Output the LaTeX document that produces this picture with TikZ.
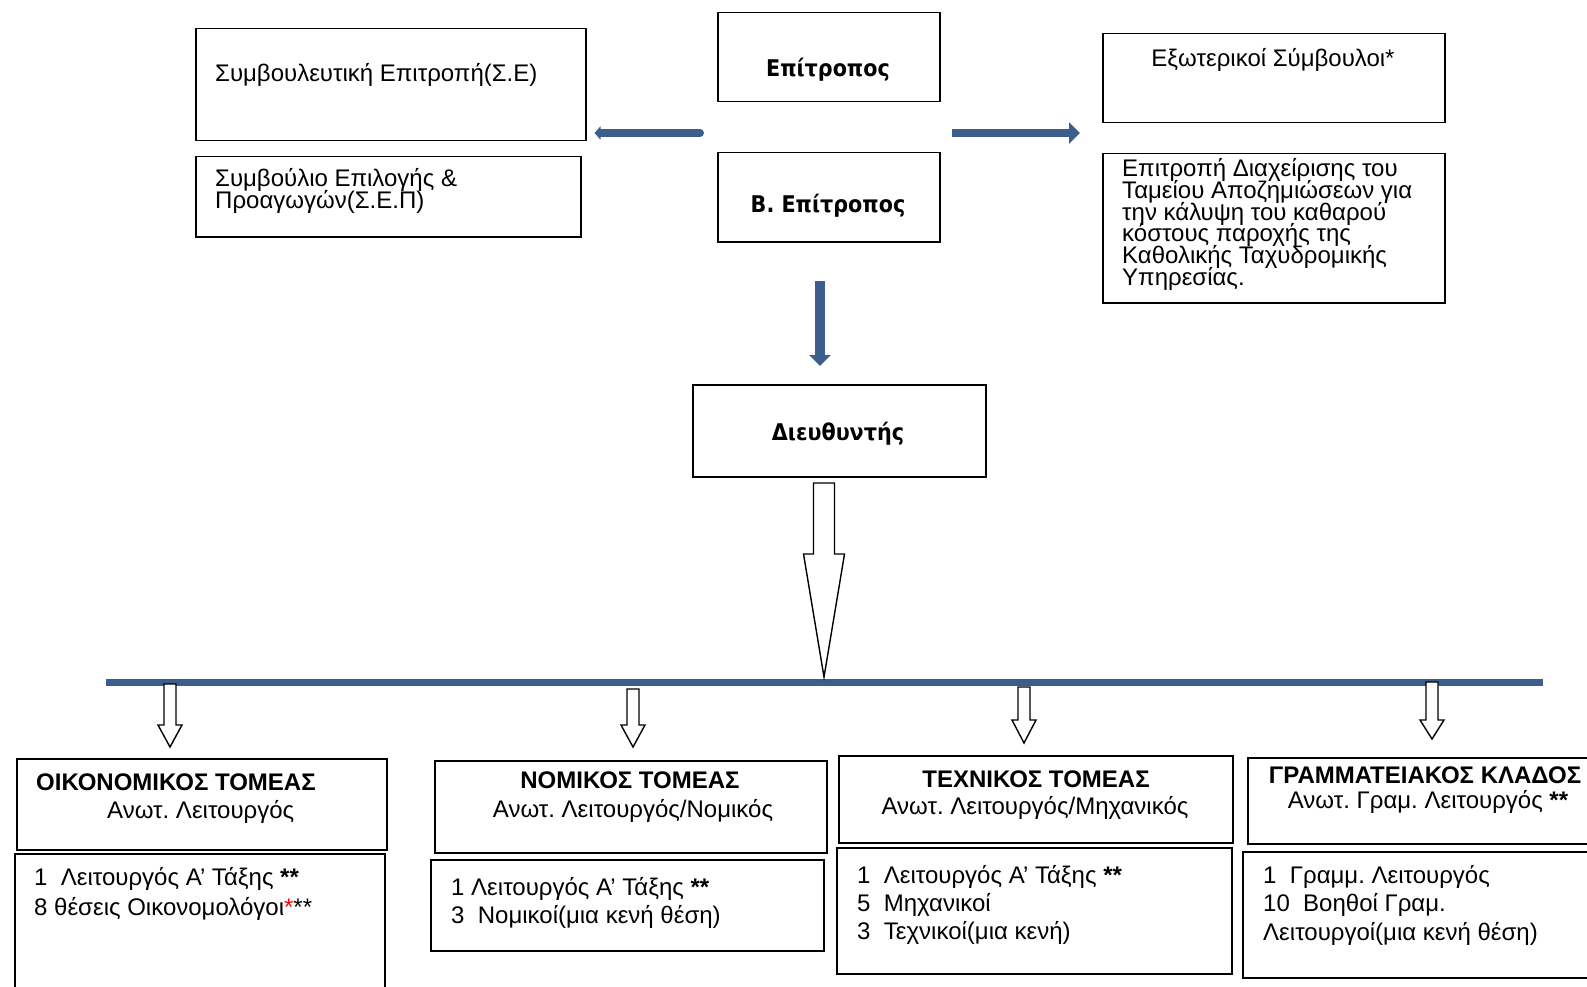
\documentclass[tikz,border=0pt]{standalone}
\usepackage{fontspec}
\setmainfont{Liberation Sans}
\newfontfamily\dejavu[FakeStretch=0.9]{DejaVu Sans}
\usetikzlibrary{arrows.meta}

\definecolor{chartblue}{HTML}{3B5E8C}

\tikzset{
    box/.style={draw, line width=1.5pt, anchor=north west, inner sep=0pt},
    lbl/.style={inner sep=0pt, font=\fontsize{24}{28}\selectfont},
    lblb/.style={lbl, font=\fontsize{24}{28}\selectfont\bfseries},
    title/.style={inner sep=0pt, font=\dejavu\bfseries\fontsize{23}{27}\selectfont},
    bluearrow/.style={draw=chartblue, line width=8pt},
    hollow/.style={draw, line width=1.4pt, fill=white, line join=miter}
}

% hollow arrow pointing down: x, top, neck, tip, shaft half width, head half width
\newcommand{\hollowdown}[6]{%
    \draw[hollow] (#1-#5,#2) -- (#1+#5,#2) -- (#1+#5,#3) -- (#1+#6,#3)
        -- (#1,#4) -- (#1-#6,#3) -- (#1-#5,#3) -- cycle;}

\begin{document}
\frenchspacing
\begin{tikzpicture}[x=1pt,y=-1pt]
        \useasboundingbox (0,0) rectangle (1587,987);

        % the advisory bodies on the left
        \node[box, minimum width=390pt, minimum height=112pt] (se) at (195,28) {};
        \node[lbl, anchor=base west] (se-t) at (215,82) {Συμβουλευτική Επιτροπή(Σ.Ε)};
        \node[box, minimum width=385pt, minimum height=80pt] (sep) at (195,156) {};
        \foreach \t [count=\i from 0] in {Συμβούλιο Επιλογής \&, Προαγωγών(Σ.Ε.Π)}
                \node[lbl, anchor=base west] (sep-\i) at (215,187+21*\i) {\t};

        % the commissioner and his deputy
        \node[box, minimum width=222pt, minimum height=89pt] (ep) at (717,12) {};
        \node[title, anchor=base] (ep-t) at (828,77) {Επίτροπος};
        \node[box, minimum width=222pt, minimum height=89pt] (bep) at (717,152) {};
        \node[title, anchor=base] (bep-t) at (828,212) {Β. Επίτροπος};

        % the bodies on the right
        \node[box, minimum width=342pt, minimum height=89pt] (ext) at (1102,33) {};
        \node[lbl, anchor=base] (ext-t) at (1273,67) {Εξωτερικοί Σύμβουλοι*};
        \node[box, minimum width=342pt, minimum height=149pt] (tam) at (1102,153) {};
        \foreach \t [count=\i from 0] in {
            Επιτροπή Διαχείρισης του,
            Ταμείου Αποζημιώσεων για,
            την κάλυψη του καθαρού,
            κόστους παροχής της,
            Καθολικής Ταχυδρομικής,
            Υπηρεσίας.}
                \node[lbl, anchor=base west] (tam-\i) at (1122,177+21.6*\i) {\t};

        % the director
        \node[box, minimum width=293pt, minimum height=92pt] (dir) at (692,384) {};
        \node[title, anchor=base] (dir-t) at (838,440) {Διευθυντής};

        % the blue arrows
        \coordinate (lfrom) at (700,133);
        \coordinate (rfrom) at (952,133);
        \coordinate (dfrom) at (820,281);
        \draw[bluearrow, line cap=round, -{Triangle[length=6pt,width=13pt]}, shorten >=8pt]
              (lfrom) -- (lfrom -| se.east);
        \draw[bluearrow, -{Triangle[length=11pt,width=21pt]}, shorten >=22pt]
              (rfrom) -- (rfrom -| ext.west);
        \draw[bluearrow, line width=10pt, -{Triangle[length=11pt,width=21pt]}, shorten >=18pt]
              (dfrom) -- (dfrom |- dir.north);

        % the bar and the hollow arrows
        \coordinate (busL) at (106,682);
        \coordinate (busR) at (1543,682);
        \draw[draw=chartblue, line width=7pt] (busL) -- (busR);
        \hollowdown{824}{483}{554}{677}{10.5}{20.5}
        \foreach \x/\t/\n/\p in {170/684/725/747, 633/689/725/747,
                                 1024/687/720/743, 1432/682/720/739}
                \hollowdown{\x}{\t}{\n}{\p}{6}{12};

        % the four sectors, heads
        \node[box, minimum width=370pt, minimum height=91pt] (oikh) at (16,758) {};
        \node[lblb, anchor=base west] (oikh-t) at (36,790) {ΟΙΚΟΝΟΜΙΚΟΣ ΤΟΜΕΑΣ};
        \node[lbl, anchor=base west] (oikh-s) at (107,818) {Ανωτ. Λειτουργός};
        \node[box, minimum width=392pt, minimum height=92pt] (nomh) at (434,760) {};
        \node[lblb, anchor=base] (nomh-t) at (630,788) {ΝΟΜΙΚΟΣ ΤΟΜΕΑΣ};
        \node[lbl, anchor=base] (nomh-s) at (633,817) {Ανωτ. Λειτουργός/Νομικός};
        \node[box, minimum width=394pt, minimum height=87pt] (tech) at (838,755) {};
        \node[lblb, anchor=base] (tech-t) at (1036,787) {ΤΕΧΝΙΚΟΣ ΤΟΜΕΑΣ};
        \node[lbl, anchor=base] (tech-s) at (1035,814) {Ανωτ. Λειτουργός/Μηχανικός};
        \node[box, minimum width=360pt, minimum height=86pt] (gramh) at (1247,757) {};
        \node[lblb, anchor=base] (gramh-t) at (1425,783) {ΓΡΑΜΜΑΤΕΙΑΚΟΣ ΚΛΑΔΟΣ};
        \node[lbl, anchor=base] (gramh-s) at (1428,808) {Ανωτ. Γραμ. Λειτουργός \textbf{**}};

        % the four sectors, staff
        \node[box, minimum width=370pt, minimum height=160pt] (oikb) at (14,853) {};
        \foreach \t [count=\i from 0] in {1~~Λειτουργός Α’ Τάξης \textbf{**},
                                          8 θέσεις Οικονομολόγοι\textcolor{red}{*}**}
                \node[lbl, anchor=base west] (oikb-\i) at (34,885+30*\i) {\t};
        \node[box, minimum width=393pt, minimum height=91pt] (nomb) at (430,859) {};
        \foreach \t [count=\i from 0] in {1 Λειτουργός Α’ Τάξης \textbf{**},
                                          3~~Νομικοί(μια κενή θέση)}
                \node[lbl, anchor=base west] (nomb-\i) at (451,895+28*\i) {\t};
        \node[box, minimum width=395pt, minimum height=126pt] (techb) at (836,847) {};
        \foreach \t [count=\i from 0] in {1~~Λειτουργός Α’ Τάξης \textbf{**},
                                          5~~Μηχανικοί, 3~~Τεχνικοί(μια κενή)}
                \node[lbl, anchor=base west] (techb-\i) at (857,883+28*\i) {\t};
        \node[box, minimum width=365pt, minimum height=126pt] (gramb) at (1242,851) {};
        \foreach \t [count=\i from 0] in {1~~Γραμμ. Λειτουργός, 10~~Βοηθοί Γραμ.,
                                          Λειτουργοί(μια κενή θέση)}
                \node[lbl, anchor=base west] (gramb-\i) at (1263,883+28.5*\i) {\t};
\end{tikzpicture}
\end{document}
